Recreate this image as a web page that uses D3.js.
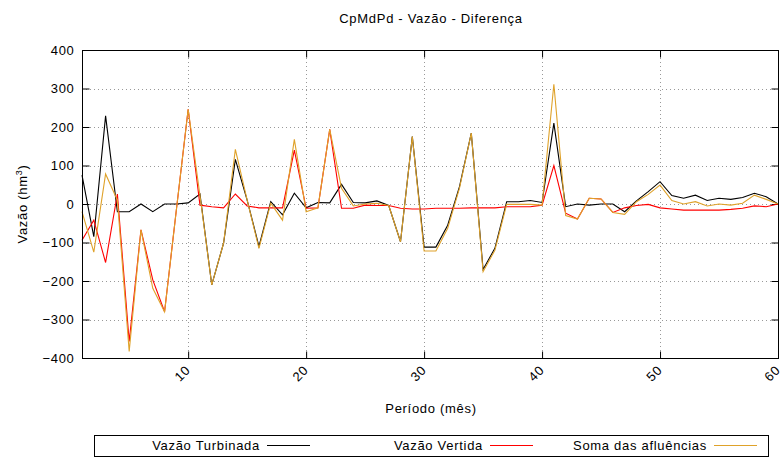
<!DOCTYPE html>
<html>
<head>
<meta charset="utf-8">
<script src="https://cdn.jsdelivr.net/npm/d3@7"></script>
<style>
  html, body { margin: 0; padding: 0; background: #fff; }
  svg text { font-family: "Liberation Sans", Arial, Helvetica, sans-serif; font-size: 13px; letter-spacing: 0.7px; fill: #000; }
</style>
</head>
<body>
<svg id="chart" width="783" height="465"></svg>
<script>
const periods = [1,2,3,4,5,6,7,8,9,10,11,12,13,14,15,16,17,18,19,20,21,22,23,24,25,26,27,28,29,30,
  31,32,33,34,35,36,37,38,39,40,41,42,43,44,45,46,47,48,49,50,51,52,53,54,55,56,57,58,59,60];

const vazaoTurbinada = [75,-85,229,-20,-20,0,-20,0,0,3,26,-210,-102,116,10,-110,6,-28,28,-10,
  4,3,51,4,3,8,-4,-98,175,-112,-112,-55,45,184,-170,-115,6,6,9,4,
  210,-7,0,-3,0,0,-20,8,32,58,22,15,23,9,15,12,17,28,19,0];

const vazaoVertida = [-94,-42,-152,26,-357,-67,-197,-280,-15,246,-3,-7,-10,26,-5,-10,-10,-10,140,-11,
  -10,194,-11,-11,-3,-4,-4,-11,-13,-13,-11,-11,-11,-10,-10,-10,-7,-7,-7,-3,
  100,-24,-39,15,13,-22,-10,-4,-1,-10,-13,-16,-16,-16,-16,-14,-11,-5,-7,0];

const somaAfluencias = [-20,-125,78,10,-383,-67,-219,-280,-15,246,22,-210,-102,142,10,-115,2,-42,168,-20,
  -10,194,41,-5,0,2,-4,-98,175,-122,-122,-63,41,184,-176,-120,-1,-1,-1,-3,
  311,-30,-39,15,13,-22,-27,6,25,49,9,0,6,-5,0,-3,2,23,12,0];

const xTicks = [10,20,30,40,50,60];
const yTicks = [-400,-300,-200,-100,0,100,200,300,400];

const seriesNames = ["Vazão Turbinada", "Vazão Vertida", "Soma das afluências"];
const seriesColors = ["#000000", "#ff0000", "#dfa22a"];
const seriesData = [vazaoTurbinada, vazaoVertida, somaAfluencias];

const svg = d3.select("#chart");
const L = 82, R = 778, T = 50, B = 358;

const x = d3.scaleLinear().domain([1, 60]).range([L, R]);
const y = d3.scaleLinear().domain([-400, 400]).range([B, T]);

// grid
const grid = svg.append("g").attr("stroke", "#999").attr("stroke-width", 1)
  .attr("stroke-dasharray", "1,3").attr("fill", "none");
xTicks.filter(t => t < 60).forEach(t => {
  grid.append("line").attr("x1", Math.round(x(t)) + 0.5).attr("x2", Math.round(x(t)) + 0.5)
    .attr("y1", T).attr("y2", B);
});
yTicks.filter(t => t > -400 && t < 400).forEach(t => {
  grid.append("line").attr("y1", Math.round(y(t)) + 0.5).attr("y2", Math.round(y(t)) + 0.5)
    .attr("x1", L).attr("x2", R);
});

// axes (ticks inward, mirrored)
const tickLen = 7;
const axL = svg.append("g").attr("transform", `translate(${L + 0.5},0)`)
  .call(d3.axisLeft(y).tickValues(yTicks).tickSize(-tickLen).tickPadding(8));
const axR = svg.append("g").attr("transform", `translate(${R + 0.5},0)`)
  .call(d3.axisRight(y).tickValues(yTicks).tickSize(-tickLen).tickFormat(""));
const axB = svg.append("g").attr("transform", `translate(0,${B + 0.5})`)
  .call(d3.axisBottom(x).tickValues(xTicks).tickSize(-tickLen).tickFormat(""));
const axT = svg.append("g").attr("transform", `translate(0,${T + 0.5})`)
  .call(d3.axisTop(x).tickValues(xTicks).tickSize(-tickLen).tickFormat(""));
[axL, axR, axB, axT].forEach(a => {
  a.select(".domain").remove();
  a.selectAll("line").attr("stroke", "#000");
});
axL.selectAll("text").attr("font-family", null).attr("font-size", null);

// rotated x tick labels
svg.append("g").selectAll("text").data(xTicks).join("text")
  .attr("transform", d => `translate(${x(d) + 3},371) rotate(-45)`)
  .attr("text-anchor", "end")
  .text(d => d);

// lines
const line = d3.line().x((d, i) => x(periods[i])).y(d => y(d));
seriesData.forEach((s, k) => {
  svg.append("path").datum(s).attr("d", line)
    .attr("fill", "none").attr("stroke", seriesColors[k]).attr("stroke-width", 1.1)
    .attr("stroke-linejoin", "miter");
});

// frame
svg.append("rect").attr("x", L + 0.5).attr("y", T + 0.5).attr("width", R - L).attr("height", B - T)
  .attr("fill", "none").attr("stroke", "#000").attr("stroke-width", 1);

// title
svg.append("text").attr("x", 431).attr("y", 23).attr("text-anchor", "middle")
  .text("CpMdPd - Vazão - Diferença");

// x label
svg.append("text").attr("x", 431).attr("y", 413).attr("text-anchor", "middle")
  .text("Período (mês)");

// y label
const yl = svg.append("text").attr("transform", "translate(27,204) rotate(-90)")
  .attr("text-anchor", "middle");
yl.append("tspan").text("Vazão (hm");
yl.append("tspan").attr("font-size", "9px").attr("dy", "-5").text("3");
yl.append("tspan").attr("dy", "5").text(")");

// legend
svg.append("rect").attr("x", 94.5).attr("y", 435.5).attr("width", 674).attr("height", 21)
  .attr("fill", "none").attr("stroke", "#000").attr("stroke-width", 1);
const legEnds = [260, 483, 707];
seriesNames.forEach((n, k) => {
  svg.append("text").attr("x", legEnds[k]).attr("y", 450).attr("text-anchor", "end").text(n);
  svg.append("line").attr("x1", legEnds[k] + 7).attr("x2", legEnds[k] + 50)
    .attr("y1", 445.5).attr("y2", 445.5).attr("stroke", seriesColors[k]).attr("stroke-width", 1.2);
});
</script>
</body>
</html>
